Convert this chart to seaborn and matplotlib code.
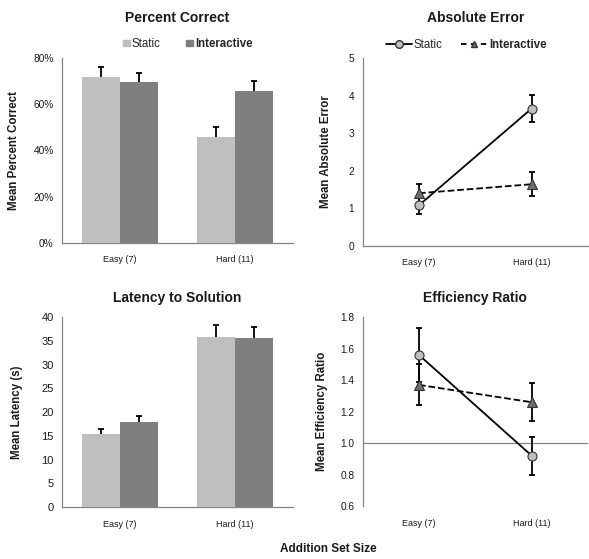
import matplotlib
matplotlib.use("Agg")
import matplotlib.pyplot as plt
from matplotlib.lines import Line2D
from matplotlib.ticker import FuncFormatter
import numpy as np
import pandas as pd
import seaborn as sns


set_sizes = ["Easy (7)", "Hard (11)"]
conditions = ["Static", "Interactive"]

pct_static = [71.8, 46.0]
pct_interactive = [69.6, 65.7]
pct_static_err = [4.4, 4.0]
pct_interactive_err = [3.9, 4.5]

abs_static = [1.08, 3.66]
abs_interactive = [1.40, 1.64]
abs_static_err = [0.23, 0.36]
abs_interactive_err = [0.25, 0.32]

lat_static = [15.4, 35.8]
lat_interactive = [18.0, 35.6]
lat_static_err = [1.1, 2.6]
lat_interactive_err = [1.2, 2.4]

eff_static = [1.56, 0.92]
eff_interactive = [1.37, 1.26]
eff_static_err = [0.17, 0.12]
eff_interactive_err = [0.13, 0.12]

BAR_COLORS = ["#BFBFBF", "#7F7F7F"]
MARKER_FACES = ["#BFBFBF", "#6E6E6E"]
AXIS_GRAY = "#868686"
TEXT = "#1a1a1a"


def make_frame(static, interactive):
    return pd.DataFrame({
        "size": set_sizes * 2,
        "condition": [conditions[0]] * 2 + [conditions[1]] * 2,
        "value": list(static) + list(interactive),
    })


def style_axes(ax, ylabel, label_x, tick_size=7.3, bottom=True):
    sns.despine(ax=ax)
    for side in ["left", "bottom"]:
        ax.spines[side].set_color(AXIS_GRAY)
        ax.spines[side].set_linewidth(0.9)
    if not bottom:
        ax.spines["bottom"].set_visible(False)
    ax.set_xlim(-0.5, 1.5)
    ax.set_xticks([0.5], minor=True)
    ax.tick_params(axis="x", which="major", length=0, pad=9, labelsize=6.5, colors=TEXT)
    ax.tick_params(axis="x", which="minor", length=4 if bottom else 0, color=AXIS_GRAY, direction="out")
    ax.tick_params(axis="y", length=3, color=AXIS_GRAY, direction="out", labelsize=tick_size,
                   labelcolor=TEXT, pad=3)
    ax.set_xlabel("")
    ax.set_ylabel(ylabel, fontsize=8.3, fontweight="bold", color=TEXT)
    ax.yaxis.set_label_coords(label_x, 0.5)


def bar_panel(ax, static, interactive, static_err, interactive_err):
    df = make_frame(static, interactive)
    sns.barplot(data=df, x="size", y="value", hue="condition", palette=BAR_COLORS,
                width=0.66, errorbar=None, saturation=1, linewidth=0, ax=ax, legend=False,
                zorder=3)
    bars = list(ax.containers)
    for container, err in zip(bars, [static_err, interactive_err]):
        xs = [b.get_x() + b.get_width() / 2 for b in container]
        ys = [b.get_height() for b in container]
        # lower half sits behind the bar, so only the upper whisker shows
        ax.errorbar(xs, ys, yerr=err, fmt="none", ecolor="black",
                    elinewidth=1.3, capsize=2.2, capthick=1.3, zorder=2)


def point_panel(ax, static, interactive, static_err, interactive_err):
    df = make_frame(static, interactive)
    sns.pointplot(data=df, x="size", y="value", hue="condition", palette=["black", "black"],
                  markers=["o", "^"], linestyles=["-", "--"], errorbar=None,
                  markersize=6.5, linewidth=1.3, ax=ax, legend=False)
    lines = list(ax.lines)
    for line, face, err in zip(lines, MARKER_FACES, [static_err, interactive_err]):
        line.set_markerfacecolor(face)
        line.set_markeredgecolor("#333333")
        line.set_markeredgewidth(0.8)
        line.set_zorder(4)
        ax.errorbar(line.get_xdata(), line.get_ydata(), yerr=err, fmt="none", ecolor="black",
                    elinewidth=1.3, capsize=2.2, capthick=1.3, zorder=3)


sns.set_style("white")
plt.rcParams["font.family"] = ["Liberation Sans", "DejaVu Sans"]

fig = plt.figure(figsize=(5.89, 5.59), dpi=100)
ax1 = fig.add_axes([0.1053, 0.5653, 0.392, 0.331])
ax2 = fig.add_axes([0.6158, 0.5605, 0.3825, 0.3352])
ax3 = fig.add_axes([0.1053, 0.0930, 0.392, 0.3394])
ax4 = fig.add_axes([0.6158, 0.0948, 0.3825, 0.3376])

# Percent correct
bar_panel(ax1, pct_static, pct_interactive, pct_static_err, pct_interactive_err)
ax1.set_ylim(0, 80)
ax1.set_yticks([0, 20, 40, 60, 80])
ax1.yaxis.set_major_formatter(FuncFormatter(lambda v, _: f"{v:.0f}%"))
style_axes(ax1, "Mean Percent Correct", -0.183)
ax1.set_title("Percent Correct", fontsize=10, fontweight="bold", pad=26, color=TEXT)
handles = [plt.Rectangle((0, 0), 1, 1, color=c) for c in BAR_COLORS]
leg = ax1.legend(handles, conditions, loc="center", bbox_to_anchor=(0.545, 1.075), ncol=2,
                 frameon=False, fontsize=8.3, handlelength=0.55, handleheight=0.55,
                 handletextpad=0.2, columnspacing=2.2)
leg.get_texts()[1].set_fontweight("bold")

# Absolute error
point_panel(ax2, abs_static, abs_interactive, abs_static_err, abs_interactive_err)
ax2.set_ylim(0, 5)
ax2.set_yticks(range(6))
style_axes(ax2, "Mean Absolute Error", -0.135)
ax2.set_title("Absolute Error", fontsize=10, fontweight="bold", pad=26, color=TEXT)
line_handles = [
    Line2D([], [], color="black", lw=1.3, ls="-", marker="o", markersize=5.5,
           markerfacecolor=MARKER_FACES[0], markeredgecolor="#333333"),
    Line2D([], [], color="black", lw=1.3, ls=(0, (3, 2.5)), marker="^", markersize=4.5,
           markerfacecolor=MARKER_FACES[1], markeredgecolor="#333333"),
]
leg = ax2.legend(line_handles, conditions, loc="center", bbox_to_anchor=(0.46, 1.07), ncol=2,
                 frameon=False, fontsize=8.3, handlelength=2.2, handletextpad=0.2,
                 columnspacing=1.6)
leg.get_texts()[1].set_fontweight("bold")

# Latency
bar_panel(ax3, lat_static, lat_interactive, lat_static_err, lat_interactive_err)
ax3.set_ylim(0, 40)
ax3.set_yticks(range(0, 41, 5))
style_axes(ax3, "Mean Latency (s)", -0.168, tick_size=8)
ax3.set_title("Latency to Solution", fontsize=10, fontweight="bold", pad=11, color=TEXT)

# Efficiency ratio
point_panel(ax4, eff_static, eff_interactive, eff_static_err, eff_interactive_err)
ax4.set_ylim(0.6, 1.8)
ax4.set_yticks(np.arange(0.6, 1.81, 0.2))
ax4.yaxis.set_major_formatter(FuncFormatter(lambda v, _: f"{v:.1f}"))
ax4.axhline(1.0, color=AXIS_GRAY, lw=0.9, zorder=1)
style_axes(ax4, "Mean Efficiency Ratio", -0.153, bottom=False)
ax4.set_title("Efficiency Ratio", fontsize=10, fontweight="bold", pad=11, color=TEXT)

fig.text(0.557, 0.018, "Addition Set Size", ha="center", va="center", fontsize=8.5,
         fontweight="bold", color=TEXT)

fig.savefig("out.png", dpi=100)
plt.close(fig)
